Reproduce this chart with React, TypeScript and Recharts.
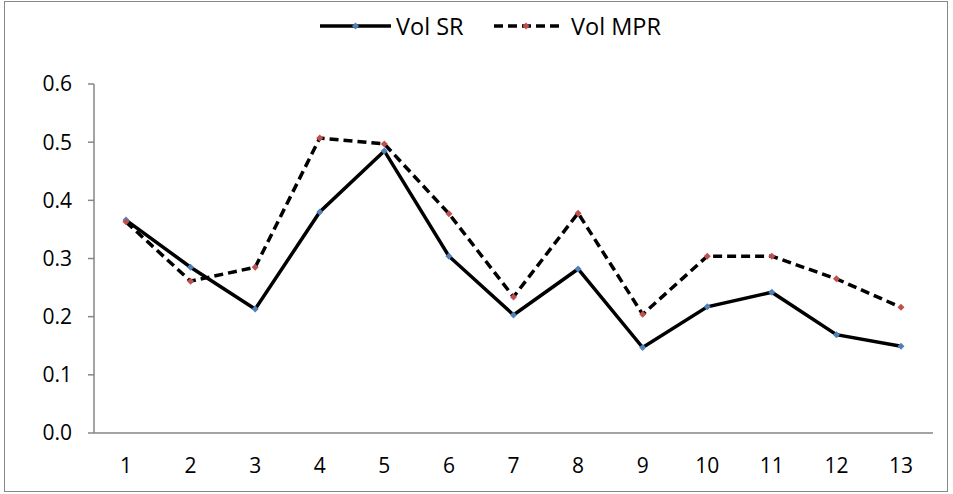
import React from "react";
import { LineChart, Line, XAxis, YAxis } from "recharts";

const categories = ["1","2","3","4","5","6","7","8","9","10","11","12","13"];
const volSR = [0.366,0.285,0.213,0.380,0.485,0.304,0.203,0.282,0.147,0.217,0.242,0.169,0.149];
const volMPR = [0.363,0.261,0.285,0.507,0.497,0.377,0.234,0.378,0.204,0.304,0.304,0.265,0.216];
const yTicks = [0,0.1,0.2,0.3,0.4,0.5,0.6];
const seriesNames = ["Vol SR", "Vol MPR"];

const data = categories.map((c, i) => ({ cat: c, sr: volSR[i], mpr: volMPR[i] }));

const FONT = "'Open Sans', sans-serif";

const Diamond = (color: string) => (props: any) => {
  const { cx, cy } = props;
  if (cx == null || cy == null) return null;
  const r = 3.5;
  return (
    <path
      key={`${cx}-${cy}`}
      d={`M${cx},${cy - r}L${cx + r},${cy}L${cx},${cy + r}L${cx - r},${cy}Z`}
      fill={color}
    />
  );
};

const LegendBox = () => (
  <svg width={953} height={50} style={{ position: "absolute", left: 0, top: 0, display: "block" }}>
    <line x1={320} y1={26} x2={391} y2={26} stroke="#000" strokeWidth={3.5} />
    <path d="M355.5,22.5L359,26L355.5,29.5L352,26Z" fill="#4F81BD" />
    <text x={396} y={34.5} fontFamily={FONT} fontSize={23.5} fill="#000">{seriesNames[0]}</text>
    <line x1={494} y1={26} x2={559} y2={26} stroke="#000" strokeWidth={3.5} strokeDasharray="9 5" />
    <path d="M526,22.5L529.5,26L526,29.5L522.5,26Z" fill="#C0504D" />
    <text x={571} y={34.5} fontFamily={FONT} fontSize={23.5} fill="#000">{seriesNames[1]}</text>
  </svg>
);

export default function App() {
  return (
    <div style={{ position: "absolute", left: 0, top: 0, width: 953, height: 494, background: "#fff" }}>
      <div
        style={{
          position: "absolute",
          left: 4,
          top: 1,
          width: 944,
          height: 491,
          border: "1px solid #888",
          boxSizing: "border-box",
        }}
      />
      <div style={{ position: "absolute", left: 0, top: 0 }}>
        <LineChart width={953} height={494} data={data} margin={{ top: 84, right: 20, bottom: 0, left: 0 }}>
          <XAxis
            dataKey="cat"
            height={61}
            tickLine={false}
            axisLine={{ stroke: "#868686", strokeWidth: 1.5 }}
            tick={{ fill: "#000", fontSize: 21, fontFamily: FONT }}
            tickSize={0}
            tickMargin={25}
            interval={0}
            padding={{ left: 32, right: 32 }}
          />
          <YAxis
            domain={[0, 0.6]}
            ticks={yTicks}
            width={94}
            tickFormatter={(v: number) => v.toFixed(1)}
            axisLine={{ stroke: "#868686", strokeWidth: 1.5 }}
            tickLine={{ stroke: "#868686", strokeWidth: 1.5 }}
            tickSize={6}
            tickMargin={16}
            tick={{ fill: "#000", fontSize: 21, fontFamily: FONT }}
          />
          <Line
            type="linear"
            dataKey="sr"
            name={seriesNames[0]}
            stroke="#000"
            strokeWidth={3.5}
            dot={Diamond("#4F81BD")}
            activeDot={false}
            isAnimationActive={false}
          />
          <Line
            type="linear"
            dataKey="mpr"
            name={seriesNames[1]}
            stroke="#000"
            strokeWidth={3.5}
            strokeDasharray="9 5"
            dot={Diamond("#C0504D")}
            activeDot={false}
            isAnimationActive={false}
          />
        </LineChart>
      </div>
      <LegendBox />
    </div>
  );
}
